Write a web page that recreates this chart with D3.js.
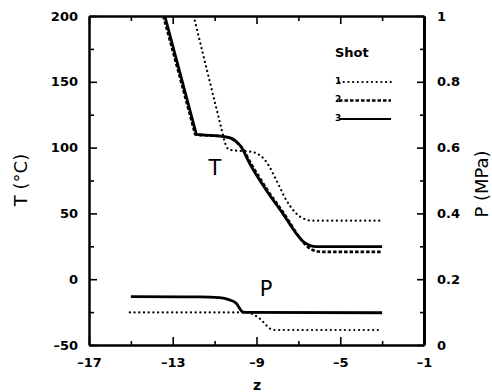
<!DOCTYPE html>
<html lang="en">
<head>
<meta charset="UTF-8" />
<title>T and P versus z</title>
<script src="https://d3js.org/d3.v7.min.js"></script>
<style>
  body { margin: 0; background: #fff; }
  svg { display: block; }
  .tick text { font-family: "DejaVu Sans", sans-serif; font-weight: bold; font-size: 13px; fill: #000; }
  .domain { stroke: #000; stroke-width: 2.5px; }
  .tick line { stroke: #000; stroke-width: 1.6px; }
  .lbl { font-family: "DejaVu Sans", sans-serif; fill: #000; }
</style>
</head>
<body>
<svg id="chart"></svg>
<script>
// ---- data ----
const shots = ["1", "2", "3"];

// Temperature (left axis, deg C)
const zT1 = [-12.0, -10.57, -10.52, -10.3, -9.8, -9.33, -8.86, -8.62, -8.38, -8.14, -7.9, -7.67, -7.43, -7.11, -6.79, -6.32, -3];
const tT1 = [200, 107.7, 104.5, 98.5, 97.5, 97, 94.4, 91, 85.5, 78, 70.3, 62.7, 56.4, 50.1, 46.3, 44.5, 44.5];

const zT2 = [-13.45, -11.98, -11.93, -10.6, -10.2, -9.95, -9.7, -9.25, -8.45, -7.65, -7.0, -6.65, -6.35, -6.05, -5.8, -3];
const tT2 = [200, 113, 110, 108.5, 107, 104, 100, 87.5, 67, 49, 33, 26, 22.5, 21, 20.8, 20.8];

const zT3 = [-13.38, -11.92, -11.87, -10.6, -10.2, -9.95, -9.73, -9.33, -8.54, -7.75, -7.11, -6.8, -6.55, -6.3, -6.0, -3];
const tT3 = [200, 113, 110, 108.5, 107, 104.5, 100.5, 88, 67.8, 50, 34.9, 29, 26.3, 25, 24.7, 24.7];

// Pressure (right axis, MPa)
const zP1 = [-15.05, -9.5, -9.33, -9.10, -8.86, -8.62, -8.38, -8.14, -3.2];
const pP1 = [0.099, 0.099, 0.097, 0.091, 0.081, 0.066, 0.051, 0.0456, 0.0456];

const zP3 = [-15, -12.5, -11.7, -10.76, -10.29, -9.97, -9.81, -9.68, -9.57, -3];
const pP3 = [0.147, 0.1465, 0.1465, 0.144, 0.137, 0.127, 0.112, 0.101, 0.099, 0.098];

const xTicksMajor = [-17, -13, -9, -5, -1];
const xTicksMinor = [-15, -11, -7, -3];
const tTicksMajor = [-50, 0, 50, 100, 150, 200];
const tTicksMinor = [-25, 25, 75, 125, 175];
const pTicksMajor = [0, 0.2, 0.4, 0.6, 0.8, 1];
const pTicksMinor = [0.1, 0.3, 0.5, 0.7, 0.9];

// ---- layout ----
const width = 492, height = 392;
const plotL = 89, plotR = 424, plotT = 16, plotB = 345;

const svg = d3.select("#chart").attr("width", width).attr("height", height);

const x = d3.scaleLinear().domain([-17, -1]).range([plotL, plotR]);
const yT = d3.scaleLinear().domain([-50, 200]).range([plotB, plotT]);
const yP = d3.scaleLinear().domain([0, 1]).range([plotB, plotT]);

const dashFmt = d => d < 0 ? "\u2013" + Math.abs(d) : String(d);

// minor ticks first
svg.append("g").attr("transform", `translate(0,${plotB})`)
  .call(d3.axisBottom(x).tickValues(xTicksMinor).tickSize(-4).tickSizeOuter(0).tickFormat(""))
  .call(g => g.select(".domain").remove());
svg.append("g").attr("transform", `translate(0,${plotT})`)
  .call(d3.axisTop(x).tickValues(xTicksMinor).tickSize(-5).tickSizeOuter(0).tickFormat(""))
  .call(g => g.select(".domain").remove());
svg.append("g").attr("transform", `translate(${plotL},0)`)
  .call(d3.axisLeft(yT).tickValues(tTicksMinor).tickSize(-5).tickSizeOuter(0).tickFormat(""))
  .call(g => g.select(".domain").remove());
svg.append("g").attr("transform", `translate(${plotR},0)`)
  .call(d3.axisRight(yP).tickValues(pTicksMinor).tickSize(-4).tickSizeOuter(0).tickFormat(""))
  .call(g => g.select(".domain").remove());

// major axes
svg.append("g").attr("transform", `translate(0,${plotB})`)
  .call(d3.axisBottom(x).tickValues(xTicksMajor).tickSize(-8).tickSizeOuter(0).tickPadding(13).tickFormat(dashFmt));
svg.append("g").attr("transform", `translate(0,${plotT})`)
  .call(d3.axisTop(x).tickValues(xTicksMajor).tickSize(-8).tickSizeOuter(0).tickFormat(""));
svg.append("g").attr("transform", `translate(${plotL},0)`)
  .call(d3.axisLeft(yT).tickValues(tTicksMajor).tickSize(-8).tickSizeOuter(0).tickPadding(11).tickFormat(dashFmt));
svg.append("g").attr("transform", `translate(${plotR},0)`)
  .call(d3.axisRight(yP).tickValues(pTicksMajor).tickSize(-7).tickSizeOuter(0).tickPadding(13).tickFormat(d => String(d)))
  .call(g => g.select(".domain").style("stroke-width", "3px"));

// ---- curves ----
const styles = {
  "1": { width: 2.2, dash: "0.1,4.6", cap: "round" },
  "2": { width: 2.6, dash: "3.5,2", cap: "butt" },
  "3": { width: 2.8, dash: null, cap: "butt" }
};

const lineT = d3.line().x(d => x(d[0])).y(d => yT(d[1])).curve(d3.curveMonotoneX);
const lineP = d3.line().x(d => x(d[0])).y(d => yP(d[1])).curve(d3.curveMonotoneX);

const series = [
  { shot: "1", line: lineT, pts: d3.zip(zT1, tT1) },
  { shot: "2", line: lineT, pts: d3.zip(zT2, tT2) },
  { shot: "3", line: lineT, pts: d3.zip(zT3, tT3) },
  { shot: "1", line: lineP, pts: d3.zip(zP1, pP1) },
  { shot: "3", line: lineP, pts: d3.zip(zP3, pP3) }
];

svg.append("clipPath").attr("id", "plot")
  .append("rect").attr("x", plotL).attr("y", plotT).attr("width", plotR - plotL).attr("height", plotB - plotT);

svg.append("g").attr("clip-path", "url(#plot)")
  .selectAll("path").data(series).join("path")
  .attr("d", d => d.line(d.pts))
  .attr("fill", "none")
  .attr("stroke", "#000")
  .attr("stroke-width", d => styles[d.shot].width)
  .attr("stroke-dasharray", d => styles[d.shot].dash)
  .attr("stroke-linecap", d => styles[d.shot].cap)
  .attr("stroke-linejoin", "round");

// ---- annotations ----
svg.append("text").attr("class", "lbl").attr("x", 215).attr("y", 175)
  .attr("text-anchor", "middle").style("font-size", "21px").text("T");
svg.append("text").attr("class", "lbl").attr("x", 266).attr("y", 296)
  .attr("text-anchor", "middle").style("font-size", "21px").text("P");

svg.append("text").attr("class", "lbl")
  .attr("transform", "translate(27,180) rotate(-90)")
  .attr("text-anchor", "middle").style("font-size", "18px").text("T (\u00B0C)");
svg.append("text").attr("class", "lbl")
  .attr("transform", "translate(488,184) rotate(-90)")
  .attr("text-anchor", "middle").style("font-size", "18px").text("P (MPa)");
svg.append("text").attr("class", "lbl")
  .attr("x", 257).attr("y", 390).attr("text-anchor", "middle")
  .style("font-size", "14px").style("font-weight", "bold").text("z");

// ---- legend ----
const legend = svg.append("g").attr("transform", "translate(335,57)");
legend.append("text").attr("class", "lbl").style("font-size", "13px").style("font-weight", "bold").text("Shot");
shots.forEach((s, i) => {
  const row = legend.append("g").attr("transform", `translate(0,${25 + i * 18.5})`);
  row.append("text").attr("class", "lbl").attr("y", 1.5)
    .style("font-size", "9px").style("font-weight", "bold").text(s);
  row.append("line").attr("x1", 4).attr("x2", 56).attr("y1", 0).attr("y2", 0)
    .attr("stroke", "#000")
    .attr("stroke-width", i === 2 ? 2 : styles[s].width)
    .attr("stroke-dasharray", styles[s].dash)
    .attr("stroke-linecap", styles[s].cap);
});
</script>
</body>
</html>
